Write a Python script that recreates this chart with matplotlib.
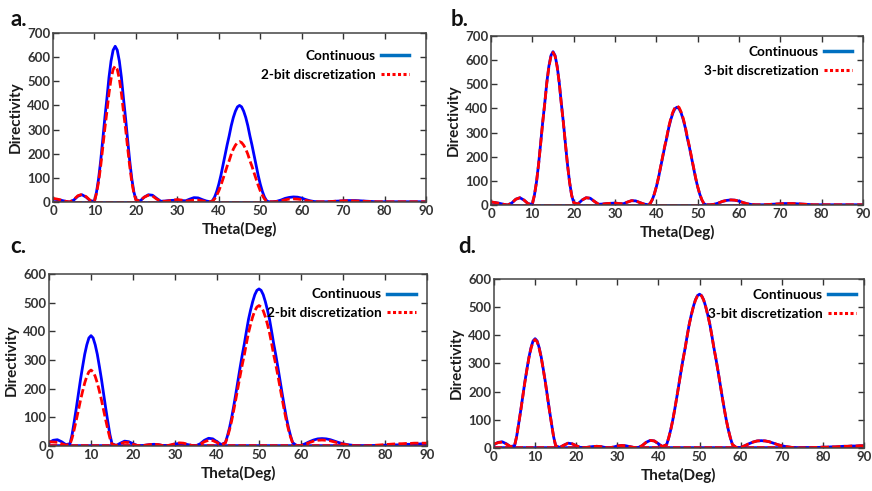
import matplotlib
matplotlib.use("Agg")
import matplotlib.pyplot as plt
from matplotlib.lines import Line2D

plt.rcParams['font.family'] = ['Lato', 'DejaVu Sans']
plt.rcParams['font.weight'] = 'bold'

# sample angles: 1 deg steps, 0.5 deg steps across the main beams
theta_ab = (list(range(0, 10)) + [10 + 0.5 * i for i in range(21)] + list(range(21, 38))
            + [38 + 0.5 * i for i in range(29)] + list(range(53, 91)))
theta_cd = (list(range(0, 5)) + [5 + 0.5 * i for i in range(21)] + list(range(16, 42))
            + [42 + 0.5 * i for i in range(33)] + list(range(59, 91)))

# ---- panels a / b : beams at 15 and 45 deg ----
side_ab_0 = [12, 10, 7, 3, 0, 8, 24, 30, 20, 5]
side_ab_1 = [4, 20, 30, 28, 15, 3, 4, 6, 7, 8, 6, 5, 12, 18, 17, 10, 4]
side_ab_2 = [1, 3, 8, 15, 19, 21, 20, 16, 10, 5, 2, 1, 1, 1, 2, 3, 4, 5, 6, 6,
             6, 5, 4, 3, 2, 1, 1, 1, 1, 1, 1, 1, 1, 1, 1, 1, 1, 1]

cont_a = (side_ab_0
          + [3, 42, 97, 171, 258, 348, 429, 516, 584, 629, 645, 629, 584, 516, 429, 348, 258, 171, 97, 42, 10]
          + side_ab_1
          + [1, 6, 21, 44, 74, 110, 152, 194, 236, 274, 316, 350, 376, 394, 400, 394, 376, 350, 316, 274,
             236, 194, 152, 110, 74, 44, 21, 6, 1]
          + side_ab_2)
disc_a = ([15, 12, 8, 3, 0, 10, 26, 32, 22, 6]
          + [3, 37, 84, 149, 225, 304, 374, 450, 510, 549, 563, 549, 510, 450, 374, 304, 225, 149, 84, 37, 8]
          + [5, 20, 28, 25, 12, 3, 3, 5, 8, 10, 8, 4, 5, 8, 8, 5, 2]
          + [1, 4, 13, 28, 46, 69, 95, 121, 148, 171, 198, 219, 235, 246, 250, 246, 235, 219, 198, 171,
             148, 121, 95, 69, 46, 28, 13, 4, 1]
          + [1, 2, 5, 9, 12, 13, 12, 10, 6, 3, 1, 1, 1, 1, 2, 3, 4, 5, 5, 5,
             4, 4, 3, 2, 2, 1, 1, 1, 1, 1, 1, 1, 1, 1, 1, 1, 1, 1])

cont_b = (side_ab_0
          + [3, 41, 95, 168, 254, 343, 422, 508, 575, 619, 635, 619, 575, 508, 422, 343, 254, 168, 95, 41, 10]
          + side_ab_1
          + [1, 6, 21, 45, 75, 111, 154, 196, 239, 277, 320, 354, 381, 399, 405, 399, 381, 354, 320, 277,
             239, 196, 154, 111, 75, 45, 21, 6, 1]
          + side_ab_2)
disc_b = ([13, 10, 7, 3, 0, 8, 24, 30, 20, 5]
          + [3, 41, 95, 167, 253, 341, 420, 506, 572, 616, 632, 616, 572, 506, 420, 341, 253, 167, 95, 41, 9]
          + side_ab_1
          + [1, 6, 22, 45, 76, 113, 156, 199, 242, 281, 324, 359, 385, 404, 410, 404, 385, 359, 324, 281,
             242, 199, 156, 113, 76, 45, 22, 6, 1]
          + side_ab_2)

# ---- panels c / d : beams at 10 and 50 deg ----
side_cd_1 = [2, 10, 17, 15, 8, 2, 1, 3, 5, 6, 5, 2, 1, 3, 7, 9, 8, 5, 2, 1,
             8, 20, 27, 25, 15, 5]
side_cd_2 = [1, 2, 8, 15, 21, 25, 26, 25, 22, 17, 12, 8, 5, 3, 1, 0, 0, 1, 1, 2,
             2, 3, 3, 4, 4, 5, 6, 6, 7, 7, 8, 8]

cont_c = ([12, 20, 22, 15, 5]
          + [8, 40, 85, 132, 182, 232, 277, 320, 353, 377, 385, 377, 353, 320, 277, 232, 182, 132, 85, 40, 8]
          + side_cd_1
          + [12, 36, 65, 100, 141, 184, 229, 274, 317, 356, 400, 442, 475, 504, 528, 543, 548,
             543, 528, 504, 475, 442, 400, 356, 317, 274, 229, 184, 141, 100, 65, 36, 12]
          + side_cd_2)
disc_c = ([15, 14, 13, 8, 3]
          + [6, 28, 58, 91, 125, 160, 191, 220, 243, 259, 265, 259, 243, 220, 191, 160, 125, 91, 58, 28, 6]
          + [2, 8, 13, 12, 6, 2, 1, 3, 5, 6, 5, 2, 1, 4, 8, 11, 10, 6, 2, 1,
             6, 15, 20, 19, 12, 4]
          + [11, 32, 58, 89, 126, 165, 205, 245, 283, 318, 358, 395, 425, 451, 472, 485, 490,
             485, 472, 451, 425, 395, 358, 318, 283, 245, 205, 165, 126, 89, 58, 32, 11]
          + [1, 2, 6, 12, 17, 20, 21, 20, 18, 14, 10, 7, 4, 2, 1, 0, 0, 1, 2, 3,
             4, 5, 6, 7, 8, 8, 9, 9, 10, 10, 10, 10])

cont_d = ([12, 20, 22, 15, 5]
          + [8, 40, 86, 133, 183, 234, 279, 322, 356, 380, 388, 380, 356, 322, 279, 234, 183, 133, 86, 40, 8]
          + side_cd_1
          + [12, 36, 65, 100, 140, 183, 228, 273, 316, 355, 399, 440, 473, 502, 526, 541, 546,
             541, 526, 502, 473, 440, 399, 355, 316, 273, 228, 183, 140, 100, 65, 36, 12]
          + side_cd_2)
disc_d = ([14, 19, 21, 14, 5]
          + [8, 40, 85, 132, 182, 232, 277, 320, 353, 377, 385, 377, 353, 320, 277, 232, 182, 132, 85, 40, 8]
          + side_cd_1
          + [12, 36, 65, 99, 140, 183, 227, 273, 315, 354, 398, 439, 472, 501, 525, 540, 545,
             540, 525, 501, 472, 439, 398, 354, 315, 273, 227, 183, 140, 99, 65, 36, 12]
          + side_cd_2)

# the flat branch drawn along the bottom of every panel
floor_theta = [0, 90]
floor_val = [2, 2]

panels = [
    ("a.", [0.0608, 0.5886, 0.4278, 0.3442], theta_ab, cont_a, disc_a, "2-bit discretization", 700,
     (0.012, 0.981), (0.981, 0.955)),
    ("b.", [0.5631, 0.5825, 0.4266, 0.3442], theta_ab, cont_b, disc_b, "3-bit discretization", 700,
     (0.517, 0.981), (0.997, 0.997)),
    ("c.", [0.0562, 0.0916, 0.4335, 0.3503], theta_cd, cont_c, disc_c, "2-bit discretization", 600,
     (0.012, 0.519), (0.995, 0.972)),
    ("d.", [0.5665, 0.0876, 0.4243, 0.3442], theta_cd, cont_d, disc_d, "3-bit discretization", 600,
     (0.525, 0.519), (1.005, 0.997)),
]

fig = plt.figure(figsize=(8.72, 4.91), dpi=100)
tick_col = '#333333'

for tag, pos, th, cont, disc, dlabel, ymax, tagpos, legpos in panels:
    ax = fig.add_axes(pos)
    ax.plot(floor_theta, floor_val, color='blue', lw=1.8)
    ax.plot(floor_theta, floor_val, color='red', lw=1.8, dashes=(3, 1.2))
    ax.plot(th, cont, color='blue', lw=2.0)
    ax.plot(th, disc, color='red', lw=2.0, dashes=(3, 1.2))
    ax.set_xlim(0, 90)
    ax.set_ylim(0, ymax)
    ax.set_xticks(range(0, 91, 10))
    ax.set_yticks(range(0, ymax + 1, 100))
    ax.tick_params(direction='in', top=True, right=True, length=4, width=1,
                   labelsize=9.5, colors=tick_col, labelcolor=tick_col, pad=2)
    for lab in ax.get_xticklabels() + ax.get_yticklabels():
        lab.set_fontweight('bold')
    for s in ax.spines.values():
        s.set_color('#444444')
        s.set_linewidth(1.1)
    ax.set_xlabel('Theta(Deg)', fontsize=11, fontweight='bold', color='#1a1a1a', labelpad=4)
    ax.set_ylabel('Directivity', fontsize=11, fontweight='bold', color='#1a1a1a', labelpad=3)

    handles = [Line2D([], [], color='#0070C0', lw=2.5),
               Line2D([], [], color='red', lw=2.2, linestyle=(0, (1, 0.8)))]
    ax.legend(handles, ['Continuous', dlabel], loc='upper right', markerfirst=False,
              frameon=False, handlelength=2.1, handletextpad=0.4,
              labelspacing=0.5, borderaxespad=0.3, bbox_to_anchor=legpos,
              prop={'weight': 'bold', 'size': 9.8})

    fig.text(tagpos[0], tagpos[1], tag, fontsize=16, fontweight='bold', va='top', color='#111111')

fig.savefig('out.png', dpi=100)
